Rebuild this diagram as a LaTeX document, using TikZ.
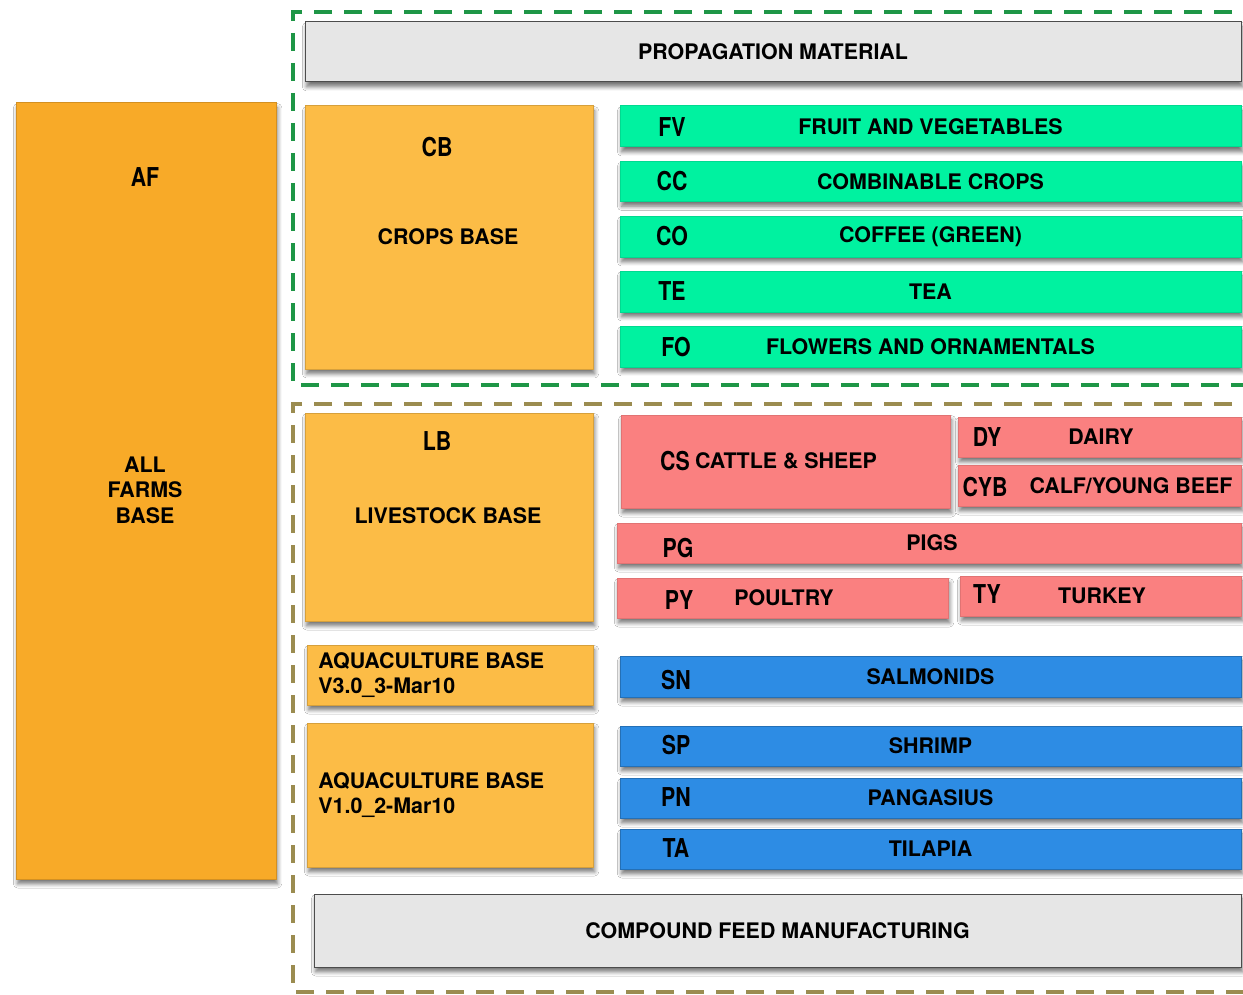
\documentclass[tikz,border=0pt]{standalone}
\usepackage{fontspec}
\setmainfont{TeX Gyre Heros}
\usetikzlibrary{shadows.blur}

\definecolor{farmorange}{RGB}{248,170,40}
\definecolor{baseorange}{RGB}{252,188,70}
\definecolor{cropgreen}{RGB}{0,242,160}
\definecolor{livepink}{RGB}{250,128,128}
\definecolor{aquablue}{RGB}{45,140,228}
\definecolor{greyfill}{RGB}{230,230,230}
\definecolor{framegreen}{RGB}{30,150,70}
\definecolor{frameolive}{RGB}{155,140,80}

\newcommand{\namefont}{\bfseries\fontsize{10.7}{12.7}\selectfont}
\newcommand{\cd}[1]{\scalebox{0.82}[1]{\bfseries\fontsize{13}{14}\selectfont #1}}

\tikzset{
  box/.style={rectangle, inner sep=0pt, line width=0.5pt, font=\namefont,
    blur shadow={shadow xshift=0.8pt, shadow yshift=-2.4pt, shadow blur steps=6, shadow opacity=55}},
  farmbox/.style={box, fill=farmorange, draw=farmorange!85!black},
  basebox/.style={box, fill=baseorange, draw=baseorange!85!black},
  croprow/.style={box, fill=cropgreen, draw=cropgreen!90!black},
  liverow/.style={box, fill=livepink, draw=livepink!90!black},
  aquarow/.style={box, fill=aquablue, draw=aquablue!80!black},
  greybox/.style={box, fill=greyfill, draw=black!70},
  codelabel/.style={inner sep=0pt},
  namelabel/.style={inner sep=0pt, font=\namefont},
  frame/.style={line width=1.6pt, dash pattern=on 9pt off 6pt}
}

\begin{document}
\begin{tikzpicture}[x=0.5pt, y=-0.5pt]
  \useasboundingbox (0,0) rectangle (1243,995);
  \fill [white] (0,0) rectangle (1243,995);
  \clip (0,0) rectangle (1243,995);

  % dashed groups
  \draw [frame, framegreen] (1262,12) -- (293,12) -- (293,385) -- (1262,385);
  \draw [frame, frameolive] (1262,404) -- (293,404) -- (293,992) -- (1262,992);

  % propagation material
  \node [greybox, minimum width=468pt, minimum height=30pt] (prop) at (773,52) {PROPAGATION MATERIAL};

  % all farms base
  \node [farmbox, minimum width=130pt, minimum height=388pt] (af) at (146,491) {};
  \node [codelabel] (af code) at (145,177) {\cd{AF}};
  \node [namelabel, align=center] (af name) at (145,490) {ALL\\FARMS\\BASE};

  % crops base
  \node [basebox, minimum width=144pt, minimum height=131.5pt] (cb) at (449,237.5) {};
  \node [codelabel] (cb code) at (437,147) {\cd{CB}};
  \node [namelabel] (cb name) at (448,237) {CROPS BASE};

  \node [croprow, minimum width=310.5pt, minimum height=20.5pt] (fv) at (930.5,126.5) {FRUIT AND VEGETABLES};
  \node [codelabel] (fv code) at (672,127) {\cd{FV}};
  \node [croprow, minimum width=310.5pt, minimum height=20pt] (cc) at (930.5,181.5) {COMBINABLE CROPS};
  \node [codelabel] (cc code) at (672,181) {\cd{CC}};
  \node [croprow, minimum width=310.5pt, minimum height=20.5pt] (co) at (930.5,236.5) {COFFEE (GREEN)};
  \node [codelabel] (co code) at (672,236) {\cd{CO}};
  \node [croprow, minimum width=310.5pt, minimum height=20.5pt] (te) at (930.5,291.5) {TEA};
  \node [codelabel] (te code) at (672,291) {\cd{TE}};
  \node [croprow, minimum width=310.5pt, minimum height=20.5pt] (fo) at (930.5,346.5) {FLOWERS AND ORNAMENTALS};
  \node [codelabel] (fo code) at (676,347) {\cd{FO}};

  % livestock base
  \node [basebox, minimum width=144pt, minimum height=104pt] (lb) at (449,517) {};
  \node [codelabel] (lb code) at (437,441) {\cd{LB}};
  \node [namelabel] (lb name) at (448,516) {LIVESTOCK BASE};

  \node [liverow, minimum width=164.5pt, minimum height=46.5pt] (cs) at (785.5,461.5) {};
  \node [codelabel] (cs code) at (675,461) {\cd{CS}};
  \node [namelabel] (cs name) at (786,461) {CATTLE \& SHEEP};
  \node [liverow, minimum width=141.5pt, minimum height=20pt] (dy) at (1099.5,437) {};
  \node [codelabel] (dy code) at (987,437) {\cd{DY}};
  \node [namelabel] (dy name) at (1101,437) {DAIRY};
  \node [liverow, minimum width=141.5pt, minimum height=20.5pt] (cyb) at (1099.5,485.5) {};
  \node [codelabel] (cyb code) at (985,487) {\cd{CYB}};
  \node [namelabel] (cyb name) at (1131,486) {CALF/YOUNG BEEF};
  \node [liverow, minimum width=312pt, minimum height=20pt] (pg) at (929,543) {};
  \node [codelabel] (pg code) at (678,548) {\cd{PG}};
  \node [namelabel] (pg name) at (932,543) {PIGS};
  \node [liverow, minimum width=165.5pt, minimum height=20pt] (py) at (782.5,598) {};
  \node [codelabel] (py code) at (679,600) {\cd{PY}};
  \node [namelabel] (py name) at (784,598) {POULTRY};
  \node [liverow, minimum width=140.5pt, minimum height=20pt] (ty) at (1100.5,596) {};
  \node [codelabel] (ty code) at (987,594) {\cd{TY}};
  \node [namelabel] (ty name) at (1102,596) {TURKEY};

  % aquaculture bases
  \node [basebox, minimum width=143pt, minimum height=30pt] (ab3) at (450,675) {};
  \node [namelabel, align=left, anchor=west] (ab3 name) at (318,675) {AQUACULTURE BASE\\V3.0\_3-Mar10};
  \node [basebox, minimum width=143pt, minimum height=72pt] (ab1) at (450,795) {};
  \node [namelabel, align=left, anchor=west] (ab1 name) at (318,795) {AQUACULTURE BASE\\V1.0\_2-Mar10};

  \node [aquarow, minimum width=310.5pt, minimum height=20.5pt] (sn) at (930.5,676.5) {SALMONIDS};
  \node [codelabel] (sn code) at (676,680) {\cd{SN}};
  \node [aquarow, minimum width=310.5pt, minimum height=20pt] (sp) at (930.5,746) {SHRIMP};
  \node [codelabel] (sp code) at (676,745) {\cd{SP}};
  \node [aquarow, minimum width=310.5pt, minimum height=20pt] (pn) at (930.5,798) {PANGASIUS};
  \node [codelabel] (pn code) at (676,797) {\cd{PN}};
  \node [aquarow, minimum width=310.5pt, minimum height=20pt] (ta) at (930.5,849) {TILAPIA};
  \node [codelabel] (ta code) at (676,848) {\cd{TA}};

  % compound feed
  \node [greybox, minimum width=463.5pt, minimum height=36.5pt] (feed) at (777.5,930.5) {COMPOUND FEED MANUFACTURING};
\end{tikzpicture}
\end{document}
